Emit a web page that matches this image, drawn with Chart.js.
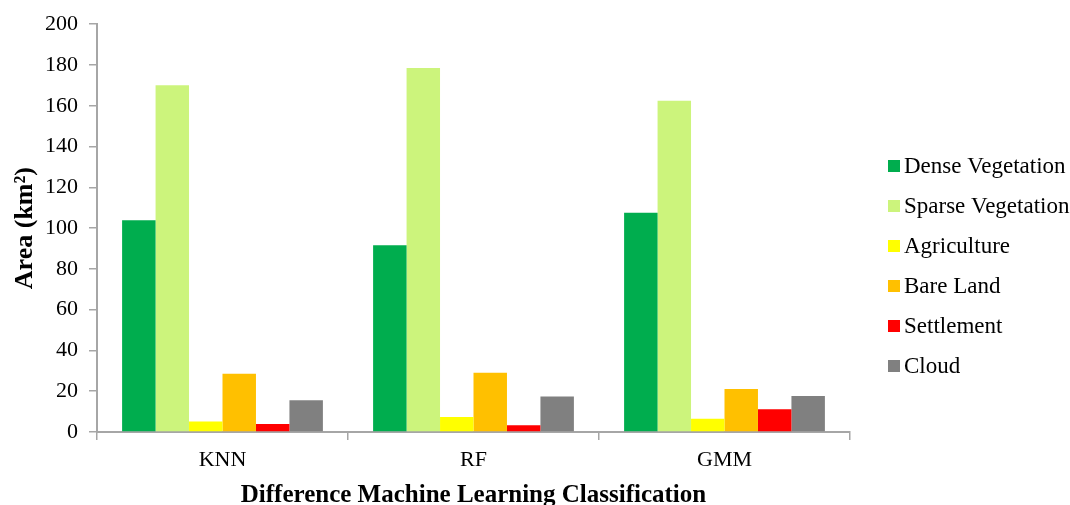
<!DOCTYPE html>
<html>
<head>
<meta charset="utf-8">
<script src="https://cdn.jsdelivr.net/npm/chart.js@4.4.0/dist/chart.umd.min.js"></script>
<style>
  html, body { margin: 0; padding: 0; background: #ffffff; }
  #wrap { width: 1070px; height: 505px; position: relative; }
</style>
</head>
<body>
<div id="wrap"><canvas id="c" width="1070" height="505"></canvas></div>
<script>
// Classification methods on the x axis
const categories = ['KNN', 'RF', 'GMM'];

// Land cover area per class (km²) for each method
const denseVegetation  = [103.8, 91.6, 107.5];
const sparseVegetation = [170.1, 178.5, 162.4];
const agriculture      = [5.2, 7.3, 6.5];
const bareLand         = [28.6, 29.1, 21.1];
const settlement       = [3.9, 3.3, 11.2];
const cloud            = [15.6, 17.4, 17.7];

const seriesNames = ['Dense Vegetation', 'Sparse Vegetation', 'Agriculture', 'Bare Land', 'Settlement', 'Cloud'];
const seriesColors = ['#00ad4e', '#ccf47c', '#ffff00', '#ffc000', '#ff0000', '#808080'];
const seriesValues = [denseVegetation, sparseVegetation, agriculture, bareLand, settlement, cloud];

// y axis ticks
const yMin = 0, yMax = 200, yStep = 20;

const serif = "'Liberation Serif', 'Times New Roman', serif";
const axisGrey = '#a6a6a6';

const datasets = seriesNames.map((name, i) => ({
  label: name,
  data: seriesValues[i],
  backgroundColor: seriesColors[i],
  borderWidth: 0,
  categoryPercentage: 0.8,
  barPercentage: 1.0
}));

// Legend column to the right of the plot: square swatch + label per series
const sideLegend = {
  id: 'sideLegend',
  afterDraw(chart) {
    const ctx = chart.ctx;
    const x0 = 888, y0 = 166, step = 40, box = 12;
    ctx.save();
    ctx.font = '23px ' + serif;
    ctx.textBaseline = 'middle';
    ctx.textAlign = 'left';
    chart.data.datasets.forEach((ds, i) => {
      const cy = y0 + i * step;
      ctx.fillStyle = ds.backgroundColor;
      ctx.fillRect(x0, cy - box / 2, box, box);
      ctx.fillStyle = '#000';
      ctx.fillText(ds.label, x0 + box + 4, cy + 1);
    });
    ctx.restore();
  }
};

new Chart(document.getElementById('c'), {
  type: 'bar',
  data: { labels: categories, datasets },
  plugins: [sideLegend],
  options: {
    responsive: false,
    animation: false,
    devicePixelRatio: 1,
    layout: { padding: { left: 10, right: 220, top: 21, bottom: 0 } },
    plugins: {
      tooltip: { enabled: false },
      legend: { display: false }
    },
    scales: {
      x: {
        afterFit(scale) { scale.height = 73; },
        grid: { display: true, drawOnChartArea: false, color: axisGrey, lineWidth: 1.5, tickLength: 8, offset: true },
        border: { color: axisGrey, width: 2 },
        ticks: { color: '#000', font: { family: serif, size: 22 }, padding: 7 },
        title: {
          display: true,
          text: 'Difference Machine Learning Classification',
          color: '#000',
          font: { family: serif, size: 25, weight: 'bold' },
          padding: { top: 0, bottom: -6 }
        }
      },
      y: {
        afterFit(scale) { scale.width = 87; },
        min: yMin,
        max: yMax,
        ticks: { stepSize: yStep, color: '#000', font: { family: serif, size: 22 }, padding: 11 },
        grid: { display: true, drawOnChartArea: false, color: axisGrey, lineWidth: 1.5, tickLength: 8 },
        border: { color: axisGrey, width: 2 },
        title: {
          display: true,
          text: 'Area (km²)',
          color: '#000',
          font: { family: serif, size: 26, weight: 'bold' },
          padding: { top: 0, bottom: 0 }
        }
      }
    }
  }
});
</script>
</body>
</html>
